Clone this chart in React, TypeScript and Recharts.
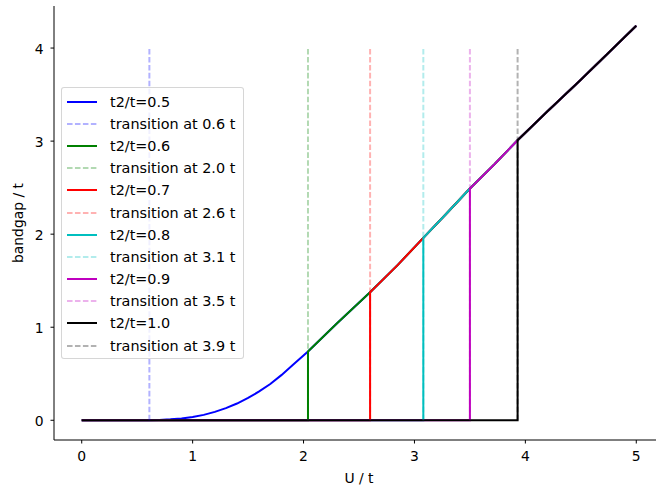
import React from 'react';
import { LineChart, Line, XAxis, YAxis, ReferenceLine, Label } from 'recharts';

// Sample points of the common gap curve (U / t  ->  bandgap / t)
const uGrid = [
  0.61, 0.7, 0.8, 0.9, 1.0, 1.1, 1.2, 1.3, 1.4, 1.5, 1.6, 1.7, 1.8, 1.9, 2.04,
  2.3, 2.6, 2.85, 3.08, 3.3, 3.5, 3.72, 3.93, 4.2, 4.5, 4.75, 5.0,
];
const gapCurve = [
  0, 0.003, 0.01, 0.02, 0.035, 0.058, 0.09, 0.13, 0.18, 0.24, 0.31, 0.39, 0.485, 0.59, 0.74,
  1.04, 1.375, 1.67, 1.96, 2.235, 2.49, 2.75, 3.01, 3.32, 3.66, 3.95, 4.24,
];

// One series per hopping ratio, each with its transition point
const ratios = [0.5, 0.6, 0.7, 0.8, 0.9, 1.0];
const transitions = [0.61, 2.04, 2.6, 3.08, 3.5, 3.93];
const colors = ['#0000ff', '#008000', '#ff0000', '#00bfbf', '#bf00bf', '#000000'];

const xTicks = [0, 1, 2, 3, 4, 5];
const yTicks = [0, 1, 2, 3, 4];

const FONT = '"DejaVu Sans", sans-serif';
const DASH = '5.55 2.4';

function buildSeries(uc: number) {
  const pts = [
    { u: 0, g: 0 },
    { u: uc, g: 0 },
  ];
  uGrid.forEach((u, i) => {
    if (u >= uc) pts.push({ u, g: gapCurve[i] });
  });
  return pts;
}

const series = ratios.map((r, i) => ({
  ratio: r,
  uc: transitions[i],
  color: colors[i],
  data: buildSeries(transitions[i]),
}));

const legendRows = series.flatMap((s) => [
  { label: `t2/t=${s.ratio.toFixed(1)}`, color: s.color, dashed: false },
  { label: `transition at ${s.uc.toFixed(1)} t`, color: s.color, dashed: true },
]);

function LegendBox() {
  return (
    <div
      style={{
        position: 'absolute',
        left: 61,
        top: 87,
        width: 183,
        height: 272,
        boxSizing: 'border-box',
        border: '1px solid rgba(204,204,204,0.8)',
        borderRadius: 3,
        background: 'rgba(255,255,255,0.8)',
        paddingTop: 2.5,
        fontFamily: FONT,
        fontSize: 14.4,
        color: '#000',
      }}
    >
      {legendRows.map((row, i) => (
        <div key={i} style={{ display: 'flex', alignItems: 'center', height: 22.2 }}>
          <svg width={30} height={6} style={{ marginLeft: 5, display: 'block' }}>
            <line
              x1={0}
              y1={3}
              x2={30}
              y2={3}
              stroke={row.color}
              strokeWidth={2}
              strokeOpacity={row.dashed ? 0.3 : 1}
              strokeDasharray={row.dashed ? DASH : undefined}
            />
          </svg>
          <span style={{ marginLeft: 13, whiteSpace: 'nowrap', lineHeight: '22px' }}>{row.label}</span>
        </div>
      ))}
    </div>
  );
}

const tickStyle = { fontFamily: FONT, fontSize: 13.9, fill: '#000' };

export default function App() {
  return (
    <div
      style={{
        position: 'absolute',
        left: 0,
        top: 0,
        width: 656,
        height: 491,
        overflow: 'hidden',
        background: '#fff',
      }}
    >
      <LineChart width={664} height={491} margin={{ top: 6, right: 0, bottom: 0, left: 0 }}>
        <XAxis
          dataKey="u"
          type="number"
          domain={[-0.25, 5.25]}
          ticks={xTicks}
          allowDataOverflow
          height={51}
          tickSize={3.5}
          tickMargin={8}
          tick={tickStyle}
          stroke="#000"
          axisLine={{ stroke: '#000', strokeWidth: 1 }}
          tickLine={{ stroke: '#000', strokeWidth: 1 }}
        >
          <Label value="U / t" position="insideBottom" offset={8} style={{ fontFamily: FONT, fontSize: 13.9, fill: '#000' }} />
        </XAxis>
        <XAxis
          xAxisId="top"
          orientation="top"
          type="number"
          domain={[-0.25, 5.25]}
          height={0}
          tick={false}
          tickLine={false}
          axisLine={{ stroke: '#000', strokeWidth: 1 }}
        />
        <YAxis
          type="number"
          domain={[-0.212, 4.452]}
          ticks={yTicks}
          allowDataOverflow
          width={54}
          tickSize={3.5}
          tickMargin={7}
          tick={{ ...tickStyle, dy: 1 }}
          axisLine={{ stroke: '#000', strokeWidth: 1 }}
          tickLine={{ stroke: '#000', strokeWidth: 1 }}
        >
          <Label
            content={() => (
              <text
                transform="translate(22.5,223) rotate(-90)"
                textAnchor="middle"
                style={{ fontFamily: FONT, fontSize: 13.9, fill: '#000' }}
              >
                bandgap / t
              </text>
            )}
          />
        </YAxis>
        {series.map((s) => (
          <Line
            key={`line-${s.ratio}`}
            data={s.data}
            dataKey="g"
            type="linear"
            stroke={s.color}
            strokeWidth={2}
            dot={false}
            activeDot={false}
            isAnimationActive={false}
          />
        ))}
        {series.map((s) => (
          <ReferenceLine
            key={`ref-${s.ratio}`}
            segment={[
              { x: s.uc, y: 0 },
              { x: s.uc, y: 4 },
            ]}
            stroke={s.color}
            strokeOpacity={0.3}
            strokeWidth={2}
            strokeDasharray={DASH}
          />
        ))}
      </LineChart>
      <LegendBox />
    </div>
  );
}
